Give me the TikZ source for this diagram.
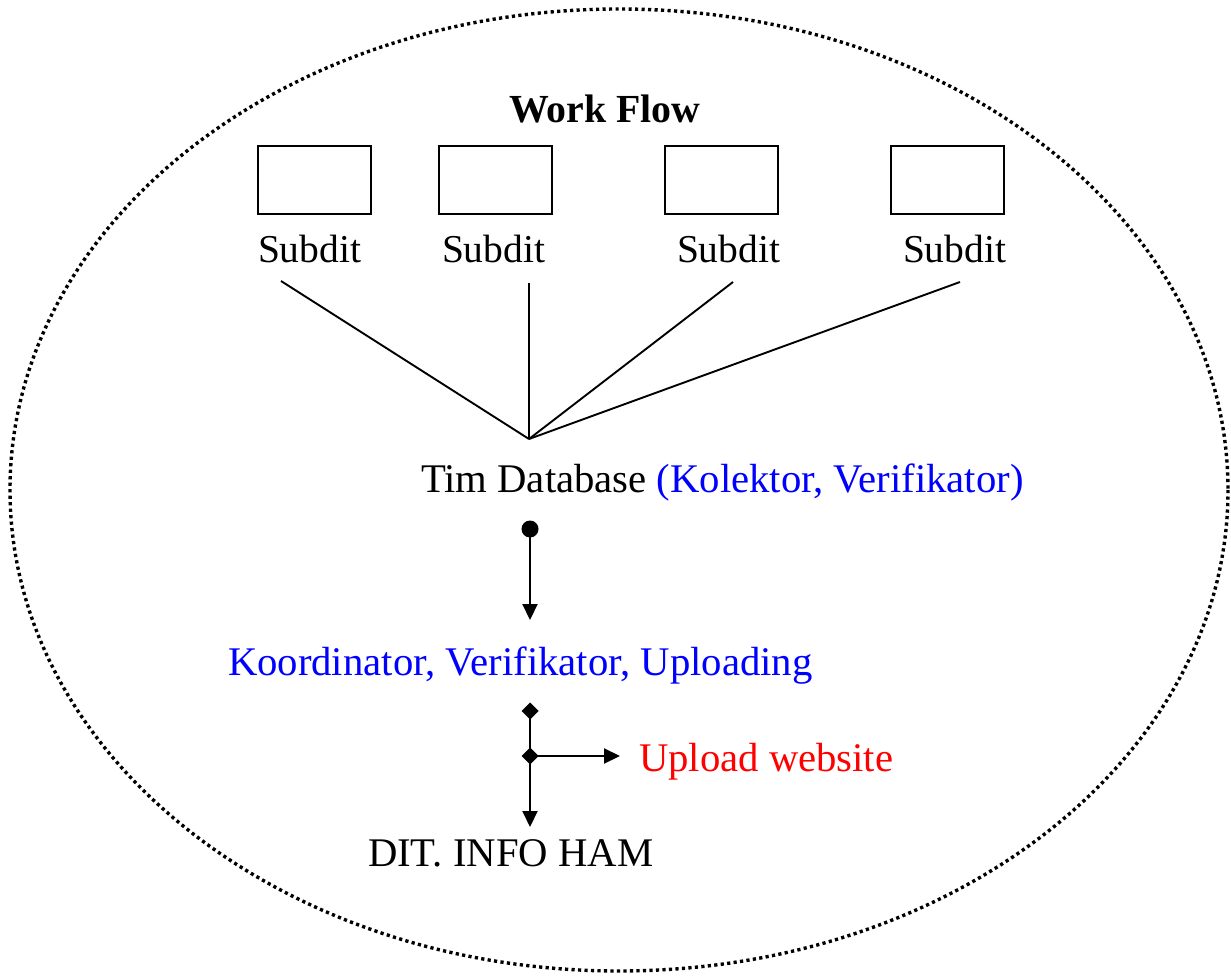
\documentclass[tikz,border=0pt]{standalone}
\usepackage{fontspec}
\setmainfont{Liberation Serif}
\usetikzlibrary{arrows.meta}
\definecolor{txtblue}{RGB}{0,0,255}
\definecolor{txtred}{RGB}{255,0,0}
\begin{document}
\begin{tikzpicture}[x=1pt,y=-1pt,
  every node/.style={inner sep=0pt,outer sep=0pt},
  lbl/.style={font=\fontsize{39.5}{40}\selectfont,anchor=base west},
  biglbl/.style={font=\fontsize{40.7}{41}\selectfont,anchor=base west},
  subbox/.style={draw,line width=1.9pt,minimum width=113pt,minimum height=68pt,anchor=north west},
  conn/.style={line width=1.9pt},
  arr/.style={line width=2.1pt,-{Triangle[length=16pt,width=15pt]}},
  border/.style={line width=3.4pt,dash pattern=on 3.2pt off 3.3pt}]
\useasboundingbox (0,0) rectangle (1231,976);
\draw[border] (619,490) ellipse [x radius=609, y radius=481];
\node[lbl,font=\fontsize{39.8}{40}\selectfont\bfseries] (title) at (509,123) {Work Flow};
\node[subbox] (b1) at (258,146) {};
\node[subbox] (b2) at (439,146) {};
\node[subbox] (b3) at (665,146) {};
\node[subbox] (b4) at (891,146) {};
\node[lbl] (s1) at (258,262) {Subdit};
\node[lbl] (s2) at (442,262) {Subdit};
\node[lbl] (s3) at (677,262) {Subdit};
\node[lbl] (s4) at (903,262) {Subdit};
\coordinate (c1) at (281,281);
\coordinate (c2) at (529,283);
\coordinate (c3) at (733,282);
\coordinate (c4) at (960,282);
\coordinate (hub) at (529,439);
\draw[conn] (c1) -- (hub);
\draw[conn] (c2) -- (hub);
\draw[conn] (c3) -- (hub);
\draw[conn] (c4) -- (hub);
\node[biglbl] (tim) at (421,492) {Tim Database \textcolor{txtblue}{(Kolektor, Verifikator)}};
\coordinate (d0) at (530,529);
\coordinate (d1) at (530,620);
\fill (d0) circle (8.5pt);
\draw[arr] (d0) -- (d1);
\node[biglbl,text=txtblue] (koord) at (228,675) {Koordinator, Verifikator, Uploading};
\coordinate (e0) at (530,711);
\coordinate (e1) at (530,756);
\coordinate (e2) at (620,756);
\coordinate (e3) at (530,827);
\draw[conn] (e0) -- (e1);
\draw[arr] (e1) -- (e2);
\draw[arr] (e1) -- (e3);
\fill (e0) +(0,-8.5) -- +(8.5,0) -- +(0,8.5) -- +(-8.5,0) -- cycle;
\fill (e1) +(0,-8.5) -- +(8.5,0) -- +(0,8.5) -- +(-8.5,0) -- cycle;
\node[biglbl,text=txtred] (up) at (639,771) {Upload website};
\node[biglbl] (dit) at (368,866) {DIT. INFO HAM};
\end{tikzpicture}
\end{document}
